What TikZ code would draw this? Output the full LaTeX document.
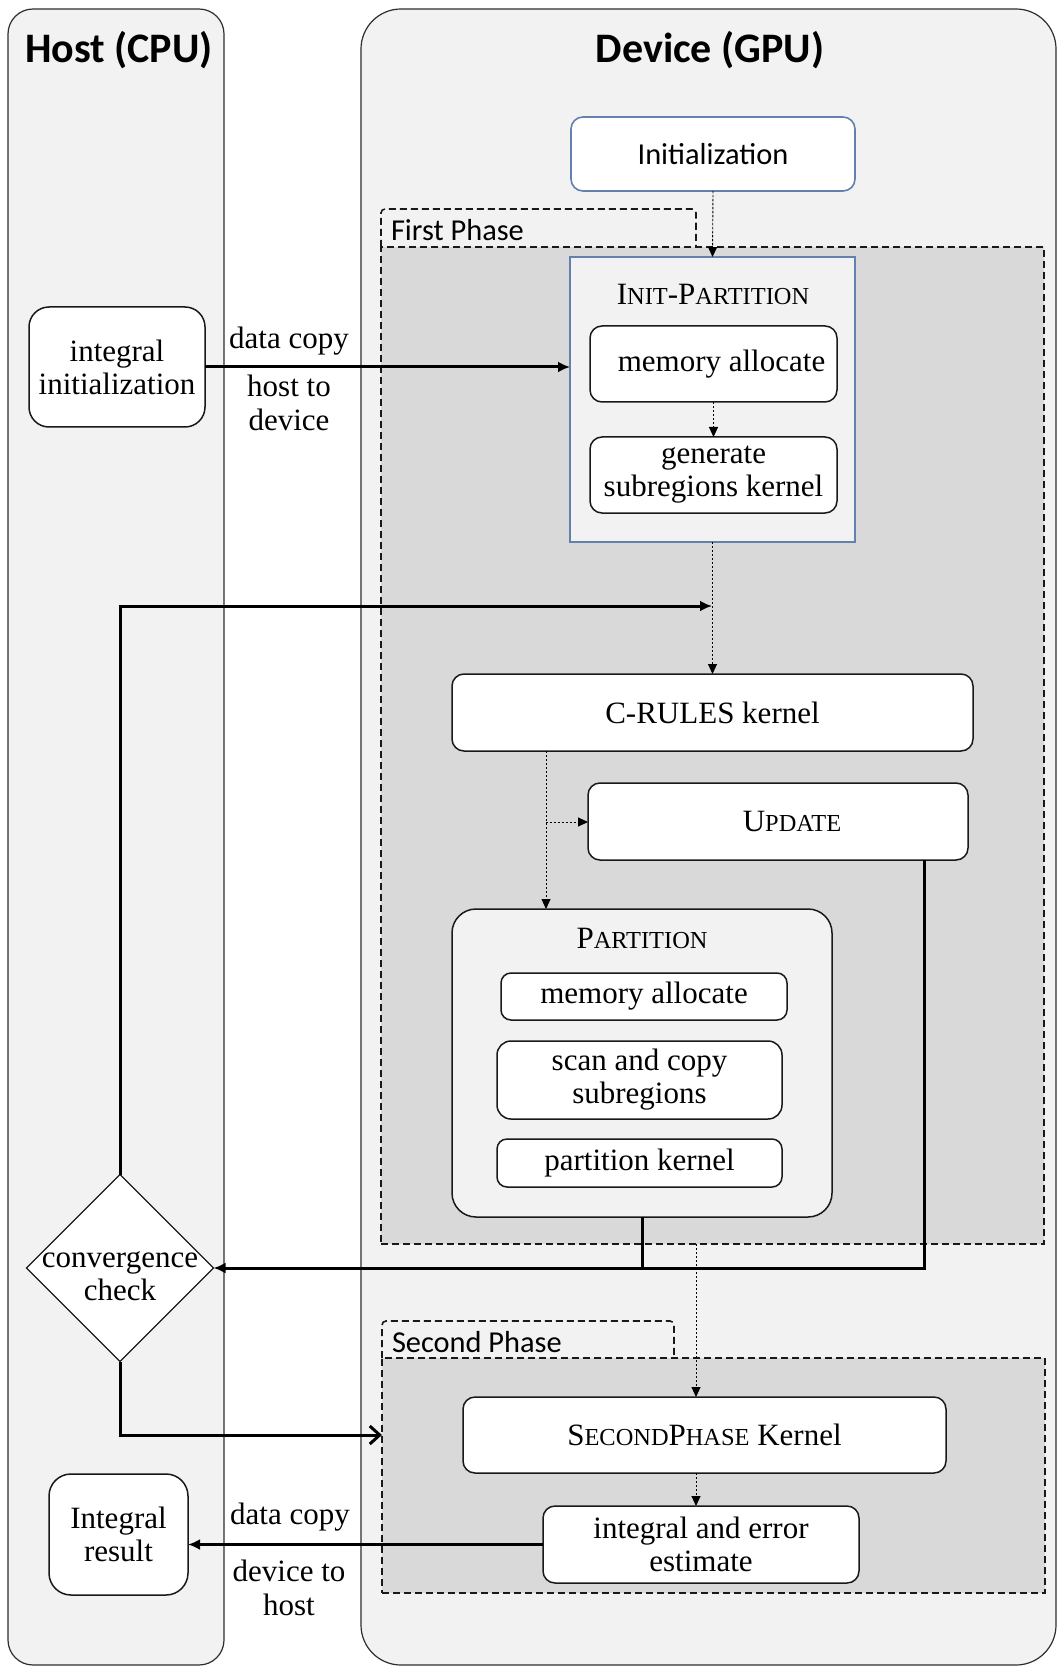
\documentclass[tikz,border=0pt]{standalone}
\usepackage{fontspec}
\setmainfont{Liberation Serif}
\newfontfamily\carl{Carlito}
\usetikzlibrary{shapes.geometric,arrows.meta,calc}
\definecolor{panelfill}{HTML}{F2F2F2}
\definecolor{regfill}{HTML}{D9D9D9}
\definecolor{bluegray}{HTML}{6281AE}
\definecolor{panelline}{HTML}{2E2E2E}
\newcommand\fsc[1]{{\fontsize{12.2pt}{14pt}\selectfont #1}}
\newcommand\txt{\fontsize{15.5pt}{16.5pt}\selectfont}
\newcommand\sanstxt{\fontsize{15.2pt}{17pt}\selectfont\carl}
\begin{document}
\begin{tikzpicture}[x=0.5pt,y=-0.5pt,
  wh/.style 2 args={minimum width=#1*0.5pt, minimum height=#2*0.5pt},
  every node/.style={inner sep=0pt, outer sep=0pt, align=center, font=\txt},
  panel/.style={draw=panelline, line width=0.6pt, fill=panelfill},
  box/.style={draw=black!90, line width=0.75pt, fill=white, rounded corners=6pt},
  bluebox/.style={draw=bluegray, line width=0.8pt},
  region/.style={draw=black!90, line width=0.8pt, dash pattern=on 3.5pt off 2pt},
  dotarrow/.style={line width=0.45pt, dash pattern=on 1.2pt off 0.8pt, -{Triangle[length=5pt,width=4.5pt]}},
  dotline/.style={line width=0.45pt, dash pattern=on 1.2pt off 0.8pt},
  thickarrow/.style={line width=1.5pt, -{Latex[length=6pt,width=5.5pt]}},
  thickline/.style={line width=1.5pt},
  title/.style={font=\fontsize{21pt}{24pt}\selectfont\carl\bfseries},
]
\useasboundingbox[fill=white] (0,0) rectangle (1059,1668);

% panels
\node[panel, rounded corners=12.5pt, wh={216}{1656}] (host) at (116,837) {};
\node[panel, rounded corners=20pt, wh={695}{1656}] (device) at (708.5,837) {};
\node[title] (hosttitle) at (119,50) {Host (CPU)};
\node[title] (devtitle) at (710,50) {Device (GPU)};

% phase regions
\node[region, fill=regfill, wh={663}{997}] (phase1) at (712.5,745.5) {};
\draw[region, rounded corners=2pt] (phase1.north west) -- (381,209) -- (696,209) -- (696,247);
\node[anchor=west, font=\sanstxt] (p1label) at (391,230) {First Phase};

\node[region, fill=regfill, wh={663}{235}] (phase2) at (713.5,1475.5) {};
\draw[region, rounded corners=2pt] (phase2.north west) -- (382,1321) -- (674,1321) -- (674,1358);
\node[anchor=west, font=\sanstxt] (p2label) at (392,1342) {Second Phase};

% device boxes
\node[bluebox, fill=white, rounded corners=6pt, wh={284}{74}, font=\sanstxt] (init) at (713,154) {Initialization};
\node[bluebox, fill=panelfill, wh={285}{285}] (initpart) at (712.5,399.5) {};
\node (initparttitle) at (713,294) {I\fsc{NIT}-P\fsc{ARTITION}};
\node[box, wh={247}{76}] (mem1) at (713.5,364) {\hspace*{8pt}memory allocate};
\node[box, wh={247}{76}] (gen) at (713.5,475) {generate\\subregions kernel};

\node[box, wh={521}{77}] (crules) at (712.5,712.5) {C-RULES kernel};
\node[box, wh={380}{77}] (update) at (778,821.5) {\hspace*{14pt}U\fsc{PDATE}};

\node[box, fill=panelfill, rounded corners=12pt, wh={380}{308}] (partit) at (642,1063) {};
\node (partittitle) at (642,938) {P\fsc{ARTITION}};
\node[box, rounded corners=5pt, wh={286}{47}] (pmem) at (644,996.5) {memory allocate};
\node[box, rounded corners=7pt, wh={285}{78}] (scan) at (639.5,1080) {scan and copy\\subregions};
\node[box, rounded corners=5pt, wh={285}{48}] (pker) at (639.5,1163) {partition kernel};

\node[box, wh={483}{76}] (skernel) at (704.5,1435) {S\fsc{ECOND}P\fsc{HASE} Kernel};
\node[box, wh={316}{77}] (interr) at (701,1544.5) {integral and error\\estimate};

% host boxes
\node[box, rounded corners=10pt, wh={176}{120}] (iinit) at (117,367) {integral\\initialization};
\node[diamond, draw=black!90, line width=0.6pt, fill=white, wh={187}{187}] (conv) at (120,1268) {};
\node (convtxt) at (120,1276) {convergence\\check};
\node[box, rounded corners=11pt, wh={139}{121}] (iresult) at (118.5,1534.5) {Integral\\result};

% labels
\node (lbl1) at (289,341) {data copy};
\node[font=\fontsize{15.5pt}{17pt}\selectfont] (lbl2) at (289,403) {host to\\device};
\node (lbl3) at (290,1517) {data copy};
\node[font=\fontsize{15.5pt}{17pt}\selectfont] (lbl4) at (289,1588) {device to\\host};

% coordinates
\coordinate (loopin) at (712,606);
\coordinate (split) at (546,822);
\coordinate (ret) at (924,1268);
\coordinate (mid2) at (696,1300);

% connectors
\draw[dotarrow] (init.south) -- (initpart.north);
\draw[dotarrow] (mem1.south) -- (gen.north);
\draw[dotarrow] (initpart.south) -- (initpart.south |- crules.north);
\draw[thickarrow] (conv.north) |- (loopin);
\draw[dotarrow] (split |- crules.south) -- (split |- partit.north);
\draw[dotarrow] (split) -- (update.west |- split);
\draw[thickline] (partit.south) -- (partit.south |- ret);
\draw[thickarrow] (update.south -| ret) -- (ret) -- (conv.east);
\draw[dotarrow] (phase1.south -| mid2) -- (skernel.north -| mid2);
\draw[dotarrow] (skernel.south -| mid2) -- (interr.north -| mid2);
\draw[line width=1.5pt, -{Straight Barb[length=5pt,width=9pt,line width=1.5pt]}] (conv.south) |- (skernel -| phase2.west);
\draw[thickarrow] (iinit.east) -- (iinit.east -| initpart.west);
\draw[thickarrow] (interr.west) -- (interr.west -| iresult.east);
\end{tikzpicture}
\end{document}
